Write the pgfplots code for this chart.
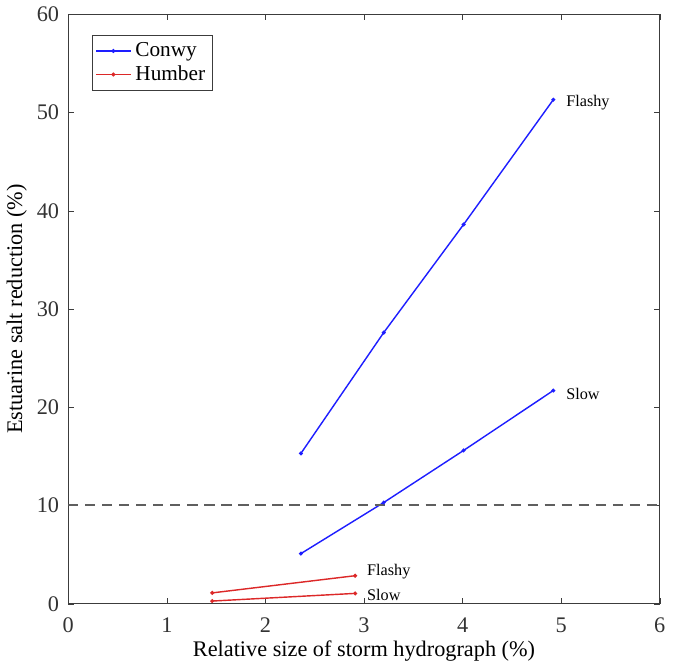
\documentclass[border=0pt]{standalone}
\usepackage{fontspec}
\setmainfont{Liberation Serif}
\usepackage{pgfplots}
\pgfplotsset{compat=1.18}
\definecolor{conwy}{RGB}{30,30,255}
\definecolor{humber}{RGB}{220,40,40}
\definecolor{axgray}{RGB}{60,60,60}
\definecolor{dashgray}{RGB}{95,95,95}
\begin{document}
\begin{tikzpicture}
\begin{axis}[
  width=292pt, height=291pt, scale only axis,
  xmin=0, xmax=6, ymin=0, ymax=60,
  xtick={0,1,...,6}, ytick={0,10,...,60},
  tick align=inside, tick pos=both,
  major tick length=3pt,
  axis line style={axgray},
  tick style={axgray},
  /pgf/number format/assume math mode=true,
  ticklabel style={font=\rmfamily\fontsize{11}{12}\selectfont, text=black!80},
  xticklabel style={yshift=-3.5pt},
  yticklabel style={xshift=-1pt},
  label style={font=\fontsize{11}{13}\selectfont},
  xlabel={Relative size of storm hydrograph (\%)},
  ylabel={Estuarine salt reduction (\%)},
  xlabel style={yshift=3pt},
  ylabel style={yshift=-2pt},
  legend style={at={(0.04,0.965)}, anchor=north west, font=\fontsize{10.5}{11}\selectfont,
    draw=axgray, inner sep=1.5pt, row sep=-1pt},
  legend cell align=left,
  every axis plot/.append style={line width=0.7pt, mark=*, mark size=0.6pt},
]
\addplot[conwy, mark options={fill=conwy}] coordinates {(2.36,15.3) (3.20,27.6) (4.01,38.6) (4.92,51.3)};
\addlegendentry{Conwy}
\addplot[humber, mark options={fill=humber}] coordinates {(1.46,1.1) (2.91,2.85)};
\addlegendentry{Humber}
\addplot[conwy, mark options={fill=conwy}, forget plot] coordinates {(2.36,5.1) (3.20,10.3) (4.01,15.6) (4.92,21.7)};
\addplot[humber, mark options={fill=humber}, forget plot] coordinates {(1.46,0.27) (2.91,1.05)};
\addplot[dashgray, line width=1.0pt, mark=none, dash pattern=on 5pt off 3.4pt, forget plot] coordinates {(0,10) (6,10)};
\node[anchor=west, font=\fontsize{8}{9}\selectfont] at (axis cs:4.98,51.0) {Flashy};
\node[anchor=west, font=\fontsize{8}{9}\selectfont] at (axis cs:4.98,21.4) {Slow};
\node[anchor=west, font=\fontsize{8}{9}\selectfont] at (axis cs:2.96,3.3) {Flashy};
\node[anchor=west, font=\fontsize{8}{9}\selectfont] at (axis cs:2.96,0.9) {Slow};
\end{axis}
\path (current axis.south east) ++(10pt,0) coordinate (padR);
\path (padR) -- ++(0,1pt);
\end{tikzpicture}
\end{document}
